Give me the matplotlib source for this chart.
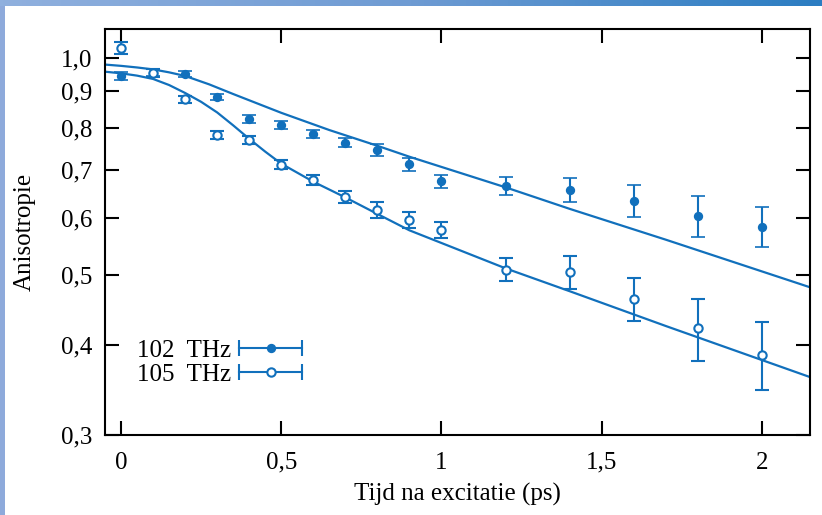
import numpy as np
import matplotlib
matplotlib.use("Agg")
import matplotlib.pyplot as plt
from matplotlib.lines import Line2D
from matplotlib.legend_handler import HandlerBase
from matplotlib.ticker import FixedLocator, FixedFormatter, NullLocator

# measured points (time in ps)
t = [0.0, 0.1, 0.2, 0.3, 0.4, 0.5, 0.6, 0.7, 0.8, 0.9, 1.0, 1.2, 1.4, 1.6, 1.8, 2.0]
r102 = [0.945, 0.955, 0.950, 0.884, 0.823, 0.808, 0.785, 0.763, 0.746, 0.713, 0.675,
        0.665, 0.656, 0.634, 0.604, 0.584]
e102 = [0.011, 0.011, 0.009, 0.009, 0.010, 0.010, 0.010, 0.011, 0.014, 0.015, 0.014,
        0.019, 0.025, 0.032, 0.039, 0.037]
r105 = [1.033, 0.955, 0.877, 0.782, 0.770, 0.712, 0.677, 0.642, 0.616, 0.596, 0.578,
        0.509, 0.505, 0.464, 0.422, 0.388]
e105 = [0.020, 0.012, 0.009, 0.010, 0.010, 0.011, 0.011, 0.012, 0.015, 0.015, 0.015,
        0.019, 0.026, 0.032, 0.042, 0.042]

# fitted curves
t_fit102 = [-0.05, 0.0, 0.05, 0.1, 0.15, 0.2, 0.275, 0.35, 0.5, 0.65, 0.8, 0.9, 1.2,
            1.4, 1.7, 2.15]
fit102 = [0.980, 0.976, 0.971, 0.965, 0.956, 0.945, 0.920, 0.892, 0.840, 0.795, 0.756,
          0.730, 0.662, 0.618, 0.560, 0.481]
t_fit105 = [-0.05, 0.0, 0.05, 0.1, 0.15, 0.2, 0.25, 0.3, 0.35, 0.4, 0.45, 0.5, 0.6, 0.7,
            0.8, 0.9, 1.2, 1.4, 1.7, 2.15]
fit105 = [0.958, 0.953, 0.946, 0.936, 0.918, 0.895, 0.870, 0.841, 0.807, 0.773, 0.742,
          0.714, 0.674, 0.641, 0.608, 0.577, 0.511, 0.475, 0.425, 0.361]

labels = ["102  THz", "105  THz"]
xticks = [0, 0.5, 1, 1.5, 2]
xtick_labels = ["0", "0,5", "1", "1,5", "2"]
yticks = [0.3, 0.4, 0.5, 0.6, 0.7, 0.8, 0.9, 1.0]
ytick_labels = ["0,3", "0,4", "0,5", "0,6", "0,7", "0,8", "0,9", "1,0"]

blue = "#1170bc"
plt.rcParams["font.family"] = ["Liberation Serif", "DejaVu Serif"]
plt.rcParams["font.size"] = 18


class ErrHandler(HandlerBase):
    # horizontal bar with end caps and the marker in the middle
    def create_artists(self, legend, orig, xd, yd, w, h, fs, trans):
        y = (h - yd) / 2
        xs = [-xd, -xd + w]
        bar = Line2D(xs, [y, y], color=blue, lw=1.5)
        caps = Line2D(xs, [y, y], ls="none", marker="|", ms=11, mew=1.5, color=blue)
        dot = Line2D([-xd + w / 2], [y], ls="none", marker="o", ms=orig.get_markersize(),
                     mfc=orig.get_markerfacecolor(), mec=blue, mew=orig.get_markeredgewidth())
        for a in (bar, caps, dot):
            a.set_transform(trans)
        return [bar, caps, dot]


fig = plt.figure(figsize=(8.22, 5.15), dpi=100)
ax = fig.add_axes([105 / 822, 1 - 435 / 515, 705 / 822, 406 / 515])

# slide decoration: blue strips on top and left
strip = fig.add_axes([0, 1 - 6 / 515, 1, 6 / 515])
grad = np.linspace(0, 1, 256)[None, :]
strip.imshow(grad, aspect="auto", cmap=matplotlib.colors.LinearSegmentedColormap.from_list(
    "s", ["#90b0de", "#6e9bd3", "#2b7dc2"]))
strip.axis("off")
side = fig.add_axes([0, 0, 5 / 822, 1 - 6 / 515])
side.set_facecolor("#8eaadb")
side.set_xticks([])
side.set_yticks([])
for s in side.spines.values():
    s.set_visible(False)

ax.plot(t_fit102, fit102, color=blue, lw=1.6)
ax.plot(t_fit105, fit105, color=blue, lw=1.6)
eb1 = ax.errorbar(t, r102, yerr=e102, fmt="o", color=blue, ms=5.5, mew=1.2,
                  elinewidth=1.5, capsize=5, capthick=1.5)
eb2 = ax.errorbar(t, r105, yerr=e105, fmt="o", color=blue, mfc="white", ms=6, mew=1.5,
                  elinewidth=1.5, capsize=5, capthick=1.5)

ax.set_yscale("log")
ax.set_xlim(-0.05, 2.15)
ax.set_ylim(0.3, 1.098)
ax.xaxis.set_major_locator(FixedLocator(xticks))
ax.xaxis.set_major_formatter(FixedFormatter(xtick_labels))
ax.yaxis.set_major_locator(FixedLocator(yticks))
ax.yaxis.set_major_formatter(FixedFormatter(ytick_labels))
ax.yaxis.set_minor_locator(NullLocator())
ax.xaxis.set_minor_locator(NullLocator())
ax.tick_params(direction="in", top=True, right=True, length=10, width=1.5)
ax.tick_params(axis="x", pad=12)
ax.tick_params(axis="y", pad=9)
for s in ax.spines.values():
    s.set_linewidth(1.5)

ax.set_xlabel("Tijd na excitatie (ps)", labelpad=7)
ax.set_ylabel("Anisotropie", labelpad=18)

ax.legend([eb1.lines[0], eb2.lines[0]], labels, handler_map={Line2D: ErrHandler()},
          loc="lower left", bbox_to_anchor=(0.028, 0.09), frameon=False, markerfirst=False,
          handlelength=2.5, handletextpad=0.32, labelspacing=0.05, borderpad=0)

fig.savefig("out.png", dpi=100)
